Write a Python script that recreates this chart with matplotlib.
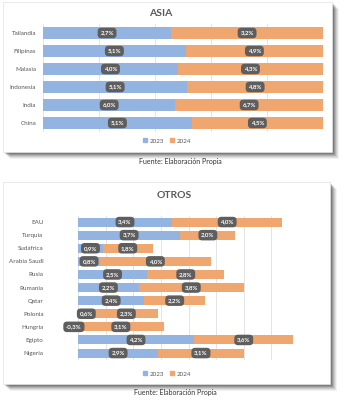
import numpy as np
import matplotlib
matplotlib.use("Agg")
import matplotlib.pyplot as plt
from matplotlib.patches import Rectangle, Patch

plt.rcParams["font.family"] = ["Lato", "DejaVu Sans"]

# Datos
asia_paises = ["Tailandia", "Filipinas", "Malasia", "Indonesia", "India", "China"]
asia_2023 = [2.7, 5.1, 4.0, 5.1, 6.0, 5.1]
asia_2024 = [3.2, 4.9, 4.3, 4.8, 6.7, 4.5]

otros_paises = ["EAU", "Turquia", "Sudáfrica", "Arabia Saudi", "Rusia", "Rumania",
                "Qatar", "Polonia", "Hungria", "Egipto", "Nigeria"]
otros_2023 = [3.4, 3.7, 0.9, 0.8, 2.5, 2.2, 2.4, 0.6, -0.3, 4.2, 2.9]
otros_2024 = [4.0, 2.0, 1.8, 4.0, 2.8, 3.8, 2.2, 2.3, 3.1, 3.6, 3.1]

AZUL = "#93B4E0"
NARANJA = "#EFA66F"
GRIS_TXT = "#595959"
W, H = 347, 400

fig = plt.figure(figsize=(W / 100, H / 100), dpi=100)
fig.patch.set_facecolor("white")


def px(x0, y0, x1, y1):
    # caja en pixeles -> fraccion de figura [left, bottom, width, height]
    return [x0 / W, 1 - y1 / H, (x1 - x0) / W, (y1 - y0) / H]


def panel(x0, y0, x1, y1):
    # sombra difusa
    for i, a in enumerate([0.05, 0.07, 0.09, 0.12, 0.15, 0.18]):
        off = 7 - i
        l, b, w, h = px(x0 + off, y0 + off, x1 + off, y1 + off)
        fig.patches.append(Rectangle((l, b), w, h, transform=fig.transFigure,
                                     facecolor="black", alpha=a, edgecolor="none", zorder=0))
    l, b, w, h = px(x0, y0, x1, y1)
    fig.patches.append(Rectangle((l, b), w, h, transform=fig.transFigure,
                                 facecolor="white", edgecolor="#E0E0E0", lw=0.5, zorder=1))


def etiqueta(ax, x, y, val):
    ax.text(x, y, f"{val:.1f}%".replace(".", ","), ha="center", va="center",
            fontsize=4.4, color="white", fontweight="bold", zorder=5,
            bbox=dict(boxstyle="round,pad=0.45,rounding_size=0.6", fc="#5E5E5E", ec="none"))


def estilo(ax):
    ax.set_facecolor("none")
    for s in ax.spines.values():
        s.set_visible(False)
    ax.tick_params(axis="y", length=0, labelsize=4.5, labelcolor=GRIS_TXT, pad=5)
    ax.tick_params(axis="x", length=0, labelbottom=False)
    ax.grid(axis="x", color="#D9D9D9", lw=0.5)
    ax.set_axisbelow(True)


panel(3, 2, 332, 152)
panel(3, 182, 330, 384)

# ASIA (100% apilado)
ax1 = fig.add_axes(px(43, 24, 323, 132), zorder=2)
a23 = np.array(asia_2023)
a24 = np.array(asia_2024)
tot = a23 + a24
p23 = a23 / tot * 100
p24 = a24 / tot * 100
y1 = np.arange(len(asia_paises))
ax1.barh(y1, p23, height=0.66, color=AZUL)
ax1.barh(y1, p24, left=p23, height=0.66, color=NARANJA)
for i in range(len(asia_paises)):
    etiqueta(ax1, p23[i] / 2, y1[i], a23[i])
    etiqueta(ax1, p23[i] + p24[i] / 2, y1[i], a24[i])
ax1.set_xlim(0, 100)
ax1.set_xticks(np.arange(0, 101, 20))
ax1.set_ylim(len(asia_paises) - 0.5, -0.5)
ax1.set_yticks(y1)
ax1.set_yticklabels(asia_paises)
estilo(ax1)
ax1.axhline(len(asia_paises) - 0.5, color="#D9D9D9", lw=0.6)
fig.text(161 / W, 1 - 14 / H, "ASIA", ha="center", va="center", fontsize=7.5,
         fontweight="bold", color=GRIS_TXT, zorder=3)
fig.legend(handles=[Patch(color=AZUL, label="2023"), Patch(color=NARANJA, label="2024")],
           loc="center", bbox_to_anchor=(167 / W, 1 - 141 / H), ncol=2, frameon=False,
           fontsize=4.5, labelcolor=GRIS_TXT, handlelength=0.6, handleheight=0.6,
           handletextpad=0.4, columnspacing=1.0)
fig.text(180 / W, 1 - 161 / H, "Fuente: Elaboración Propia", ha="center", va="center",
         fontsize=5, color="#333333")

# OTROS (apilado)
ax2 = fig.add_axes(px(50.4, 215.5, 299, 359.6), zorder=2)
o23 = np.array(otros_2023)
o24 = np.array(otros_2024)
y2 = np.arange(len(otros_paises))
base = np.where(o23 > 0, o23, 0)
ax2.barh(y2, o23, height=0.68, color=AZUL)
ax2.barh(y2, o24, left=base, height=0.68, color=NARANJA)
for i in range(len(otros_paises)):
    etiqueta(ax2, o23[i] / 2, y2[i], o23[i])
    etiqueta(ax2, base[i] + o24[i] / 2, y2[i], o24[i])
ax2.set_xlim(-1, 8)
ax2.set_xticks(np.arange(0, 9, 1))
ax2.set_ylim(len(otros_paises) - 0.5, -0.5)
ax2.set_yticks(y2)
ax2.set_yticklabels(otros_paises)
estilo(ax2)
fig.text(174 / W, 1 - 195 / H, "OTROS", ha="center", va="center", fontsize=7.5,
         fontweight="bold", color=GRIS_TXT, zorder=3)
fig.legend(handles=[Patch(color=AZUL, label="2023"), Patch(color=NARANJA, label="2024")],
           loc="center", bbox_to_anchor=(167 / W, 1 - 374 / H), ncol=2, frameon=False,
           fontsize=4.5, labelcolor=GRIS_TXT, handlelength=0.6, handleheight=0.6,
           handletextpad=0.4, columnspacing=1.0)
fig.text(175 / W, 1 - 392 / H, "Fuente: Elaboración Propia", ha="center", va="center",
         fontsize=5, color="#333333")

fig.savefig("out.png", dpi=100)
